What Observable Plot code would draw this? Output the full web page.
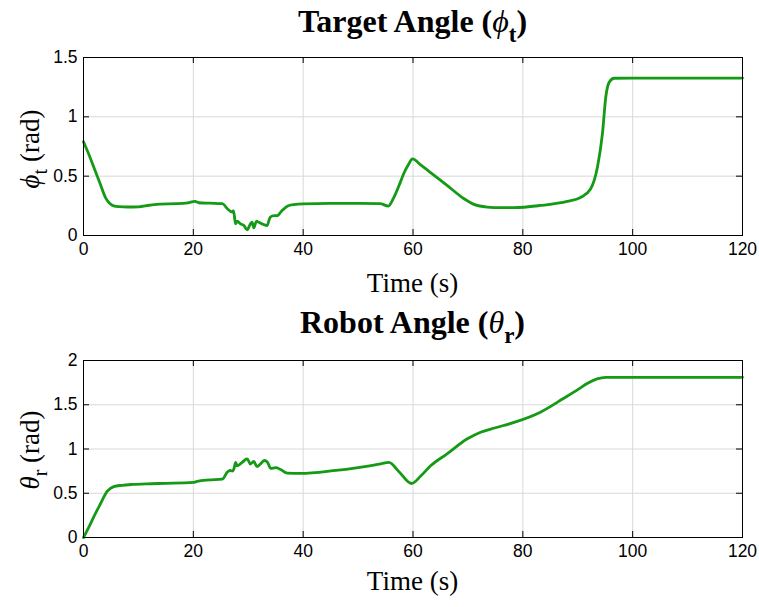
<!DOCTYPE html>
<html>
<head>
<meta charset="utf-8">
<script src="https://cdn.jsdelivr.net/npm/d3@7"></script>
<script src="https://cdn.jsdelivr.net/npm/@observablehq/plot@0.6"></script>
<style>
  html, body { margin: 0; padding: 0; background: #fff; }
  #chart { position: relative; width: 759px; height: 607px; background: #fff; }
  #chart svg { position: absolute; left: 0; overflow: visible; }
</style>
</head>
<body>
<div id="chart"></div>
<script>
// Target angle ϕt (rad) over time (s)
const targetTime = [0, 1, 2, 3, 4, 4.8, 5.5, 6.5, 8, 10, 12, 14, 17, 19, 20.3, 21, 23, 25.3,
  26.2, 27.1, 27.3, 27.7, 28.0, 28.6, 29.2, 29.8, 30.4, 30.7, 31.0, 31.5, 31.9, 32.5, 33.4,
  34.0, 34.7, 35.3, 35.9, 37.1, 38.3, 40, 45, 50, 54, 55.5, 56.5, 57.7, 58.3, 59.2, 59.9,
  61.4, 63.2, 66.2, 69.3, 71.1, 73.5, 76, 78.4, 83.2, 88.1, 90.5, 92.3, 93.6, 94.5, 95.1,
  95.7, 96.6, 100, 120];
const targetAngle = [0.79, 0.68, 0.56, 0.44, 0.32, 0.27, 0.25, 0.243, 0.24, 0.242, 0.255, 0.265,
  0.268, 0.275, 0.287, 0.276, 0.272, 0.268, 0.225, 0.197, 0.21, 0.098, 0.12, 0.098, 0.084, 0.048,
  0.098, 0.112, 0.064, 0.12, 0.112, 0.098, 0.084, 0.154, 0.168, 0.168, 0.197, 0.247, 0.261, 0.267,
  0.27, 0.27, 0.268, 0.248, 0.32, 0.45, 0.52, 0.60, 0.646, 0.595, 0.53, 0.423, 0.31, 0.262, 0.24,
  0.235, 0.235, 0.253, 0.287, 0.32, 0.39, 0.58, 0.86, 1.165, 1.29, 1.325, 1.327, 1.327];

// Robot angle θr (rad) over time (s)
const robotTime = [0, 1, 2, 3, 4.3, 5.5, 7, 9, 11.6, 15, 20, 20.7, 23, 25.3, 26.2, 26.7, 27.1,
  27.4, 27.7, 28.0, 28.9, 29.8, 30.4, 31.0, 31.6, 32.2, 32.9, 33.5, 34.1, 35.0, 35.9, 37.1, 39.5,
  45.5, 50, 54.1, 55.6, 57.5, 59.7, 61.5, 63.2, 66.2, 69.9, 72.3, 75, 78.4, 83.2, 87.3, 90.5,
  91.7, 95.1, 120];
const robotAngle = [0, 0.12, 0.25, 0.37, 0.52, 0.575, 0.59, 0.6, 0.607, 0.612, 0.622, 0.635, 0.65,
  0.66, 0.74, 0.757, 0.75, 0.777, 0.85, 0.81, 0.85, 0.889, 0.83, 0.86, 0.80, 0.83, 0.87, 0.85,
  0.78, 0.79, 0.768, 0.727, 0.725, 0.755, 0.79, 0.832, 0.85, 0.74, 0.61, 0.70, 0.81, 0.945,
  1.115, 1.19, 1.24, 1.30, 1.416, 1.567, 1.69, 1.74, 1.81, 1.81];

const timeTicks = [0, 20, 40, 60, 80, 100, 120];
const targetTicks = [0, 0.5, 1, 1.5];
const robotTicks = [0, 0.5, 1, 1.5, 2];

const lineColor = "#149a14";
const gridColor = "#d8d8d8";
const serif = "'Liberation Serif', 'Times New Roman', serif";
const tickLen = 6;

function panel({ times, values, yTicks, yMax, top, height, marginTop, marginBottom,
                 title, symbol, sub, titleY, labelY, xLabelY }) {
  const rows = times.map((t, i) => ({ t, v: values[i] }));
  const tickStyle = { stroke: "#000", strokeWidth: 1 };
  const svgNode = Plot.plot({
    width: 759,
    height,
    marginTop,
    marginBottom,
    marginLeft: 83,
    marginRight: 17,
    x: { domain: [0, 120] },
    y: { domain: [0, yMax] },
    style: { fontFamily: "'Liberation Sans', Arial, sans-serif", fontSize: "17.5px", color: "#000", background: "transparent" },
    marks: [
      Plot.gridX(timeTicks, { stroke: gridColor, strokeOpacity: 1 }),
      Plot.gridY(yTicks, { stroke: gridColor, strokeOpacity: 1 }),
      Plot.line(rows, { x: "t", y: "v", stroke: lineColor, strokeWidth: 2.8, curve: "monotone-x" }),
      Plot.frame({ stroke: "#000", strokeWidth: 1 }),
      // inward tick marks on all four sides (zero-length rules stretched by negative insets)
      Plot.ruleX(timeTicks, { x: d => d, y1: 0, y2: 0, insetTop: -tickLen, ...tickStyle }),
      Plot.ruleX(timeTicks, { x: d => d, y1: yMax, y2: yMax, insetBottom: -tickLen, ...tickStyle }),
      Plot.ruleY(yTicks, { y: d => d, x1: 0, x2: 0, insetRight: -tickLen, ...tickStyle }),
      Plot.ruleY(yTicks, { y: d => d, x1: 120, x2: 120, insetLeft: -tickLen, ...tickStyle }),
      Plot.axisX(timeTicks, { tickSize: 0, tickPadding: 7, label: null, tickFormat: d => String(d) }),
      Plot.axisY(yTicks, { tickSize: 0, tickPadding: 6, label: null, tickFormat: d => String(d) })
    ]
  });
  svgNode.style.top = top + "px";
  const svg = d3.select(svgNode);

  // panel title with subscripted symbol
  const tt = svg.append("text")
    .attr("x", 412.5).attr("y", titleY)
    .attr("text-anchor", "middle")
    .attr("font-family", serif).attr("font-weight", "bold").attr("font-size", 32)
    .attr("fill", "#000").style("white-space", "pre");
  tt.append("tspan").text(title + " (");
  tt.append("tspan").attr("font-style", "italic").attr("font-weight", "normal").text(symbol);
  tt.append("tspan").attr("font-size", 23).attr("dy", 10).text(sub);
  tt.append("tspan").attr("dy", -10).text(")");

  // y-axis label
  const yl = svg.append("text")
    .attr("transform", `translate(39,${labelY}) rotate(-90)`)
    .attr("text-anchor", "middle")
    .attr("font-family", serif).attr("font-size", 27)
    .attr("fill", "#000").style("white-space", "pre");
  yl.append("tspan").attr("font-style", "italic").text(symbol);
  yl.append("tspan").attr("font-size", 20).attr("dy", 8).text(sub);
  yl.append("tspan").attr("dy", -8).text(" (rad)");

  // x-axis label
  svg.append("text")
    .attr("x", 412.5).attr("y", xLabelY)
    .attr("text-anchor", "middle")
    .attr("font-family", serif).attr("font-size", 27)
    .attr("fill", "#000")
    .text("Time (s)");

  document.getElementById("chart").appendChild(svgNode);
}

panel({
  times: targetTime, values: targetAngle, yTicks: targetTicks, yMax: 1.5,
  top: 0, height: 300, marginTop: 57, marginBottom: 65,
  title: "Target Angle", symbol: "ϕ", sub: "t",
  titleY: 32, labelY: 149, xLabelY: 292
});

panel({
  times: robotTime, values: robotAngle, yTicks: robotTicks, yMax: 2,
  top: 300, height: 307, marginTop: 60, marginBottom: 70,
  title: "Robot Angle", symbol: "θ", sub: "r",
  titleY: 33, labelY: 150, xLabelY: 290
});
</script>
</body>
</html>
